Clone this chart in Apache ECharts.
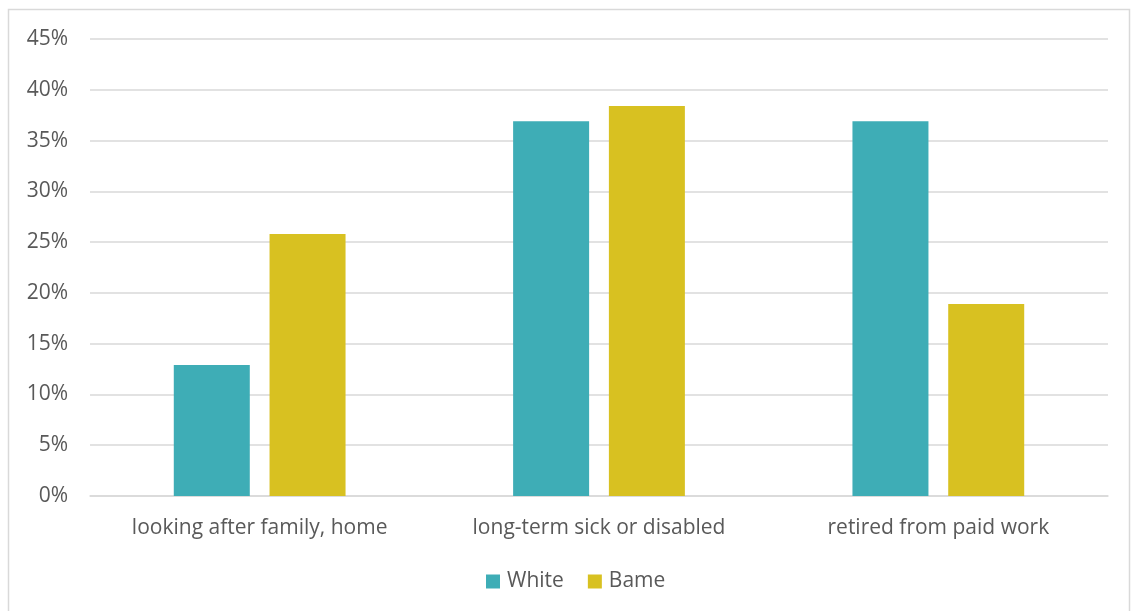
<!DOCTYPE html>
<html>
<head>
<meta charset="utf-8">
<script src="https://cdn.jsdelivr.net/npm/echarts@6/dist/echarts.min.js"></script>
<style>
  html, body { margin: 0; padding: 0; background: #fff; }
  #chart { width: 1131px; height: 611px; }
</style>
</head>
<body>
<div id="chart"></div>
<script>
// Share of economically inactive people by reason, White vs Bame
const categories = ['looking after family, home', 'long-term sick or disabled', 'retired from paid work'];
const whiteValues = [12.9, 36.9, 36.9];
const bameValues = [25.8, 38.4, 18.9];
const yTicks = { min: 0, max: 45, step: 5 };

const textColor = '#595959';
const font = '"Open Sans", Lato, sans-serif';
const fontSize = 21;

const chart = echarts.init(document.getElementById('chart'));
chart.setOption({
  animation: false,
  backgroundColor: '#fff',
  graphic: [{
    type: 'rect',
    shape: { x: 8.5, y: 9.5, width: 1121, height: 640 },
    style: { fill: 'none', stroke: '#d9d9d9', lineWidth: 1.5 },
    silent: true
  }],
  grid: { left: 90, right: 23, top: 39, bottom: 115, containLabel: false },
  legend: {
    bottom: 14,
    left: 481,
    itemWidth: 14,
    itemHeight: 14,
    itemGap: 24,
    icon: 'rect',
    textStyle: { color: textColor, fontSize: fontSize, fontFamily: font, padding: [0, 0, 0, 2] },
    data: ['White', 'Bame']
  },
  xAxis: {
    type: 'category',
    data: categories,
    axisTick: { show: false },
    axisLine: { lineStyle: { color: '#d9d9d9', width: 1.5 } },
    axisLabel: { color: textColor, fontSize: fontSize, fontFamily: font, margin: 22 }
  },
  yAxis: {
    type: 'value',
    min: yTicks.min,
    max: yTicks.max,
    interval: yTicks.step,
    axisLine: { show: false },
    axisTick: { show: false },
    splitLine: { lineStyle: { color: '#d9d9d9', width: 1.5 } },
    axisLabel: { color: textColor, fontSize: fontSize, fontFamily: font, margin: 22, formatter: '{value}%' }
  },
  series: [
    {
      name: 'White', type: 'bar', data: whiteValues,
      barWidth: 76, barGap: '26%',
      itemStyle: { color: '#3eadb6' }
    },
    {
      name: 'Bame', type: 'bar', data: bameValues,
      barWidth: 76,
      itemStyle: { color: '#d8c121' }
    }
  ]
});
</script>
</body>
</html>
